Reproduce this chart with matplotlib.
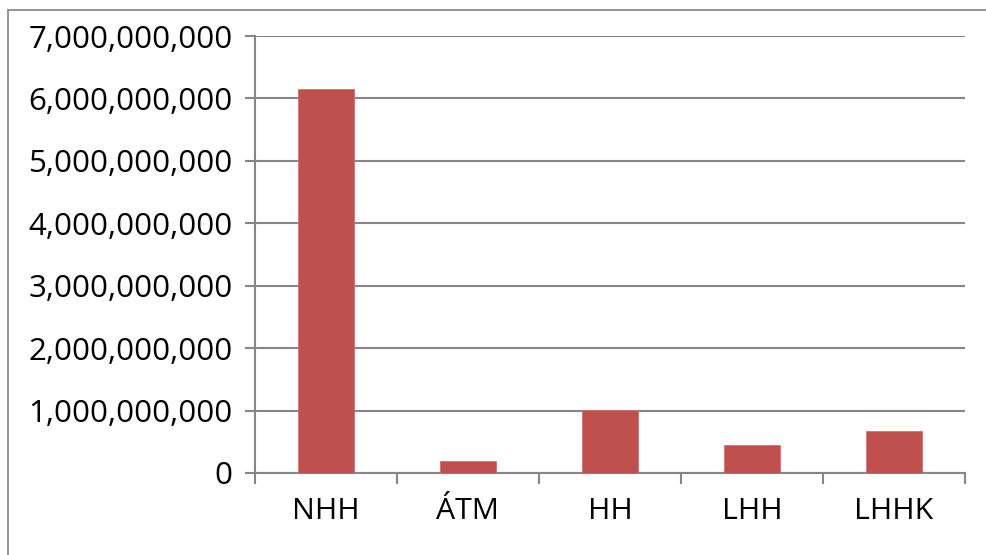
import matplotlib.pyplot as plt
import matplotlib.ticker as mticker
from matplotlib.patches import Rectangle

# dữ liệu
categories = ['NHH', 'ÁTM', 'HH', 'LHH', 'LHHK']
values = [6150000000, 200000000, 1010000000, 450000000, 680000000]

plt.rcParams['font.family'] = ['Open Sans', 'DejaVu Sans']

fig = plt.figure(figsize=(9.86, 5.55), dpi=100)
# khung viền nhạt quanh hình
fig.patches.append(Rectangle((8 / 986, -0.1), 1.2, 1 - 10 / 555 + 0.1,
                             transform=fig.transFigure, fill=False,
                             edgecolor='#8c8c8c', linewidth=1.3))

ax = fig.add_axes([255 / 986, 1 - 473 / 555, 710 / 986, (473 - 36) / 555])
x = list(range(len(categories)))
ax.bar(x, values, width=0.4, color='#c0504d', edgecolor='#d0706d', linewidth=0.6, zorder=3)

ax.set_xlim(-0.5, len(categories) - 0.5)
ax.set_ylim(0, 7000000000)
ax.set_yticks(range(0, 7000000001, 1000000000))
ax.yaxis.set_major_formatter(mticker.FuncFormatter(lambda v, p: f'{int(v):,}'))
ax.grid(axis='y', color='#868686', linewidth=1.5, zorder=0)

ax.set_xticks(x)
ax.set_xticklabels(categories)
ax.set_xticks([i - 0.5 for i in range(len(categories) + 1)], minor=True)
ax.tick_params(axis='x', which='major', length=0, pad=17, labelsize=21.8)
ax.tick_params(axis='x', which='minor', length=8, width=1.5, color='#868686', direction='out')
ax.tick_params(axis='y', length=7, width=1.5, color='#868686', labelsize=22.5, pad=9)

for s in ['top', 'right']:
    ax.spines[s].set_visible(False)
for s in ['left', 'bottom']:
    ax.spines[s].set_color('#868686')
    ax.spines[s].set_linewidth(1.5)

plt.savefig('out.png', dpi=100)
